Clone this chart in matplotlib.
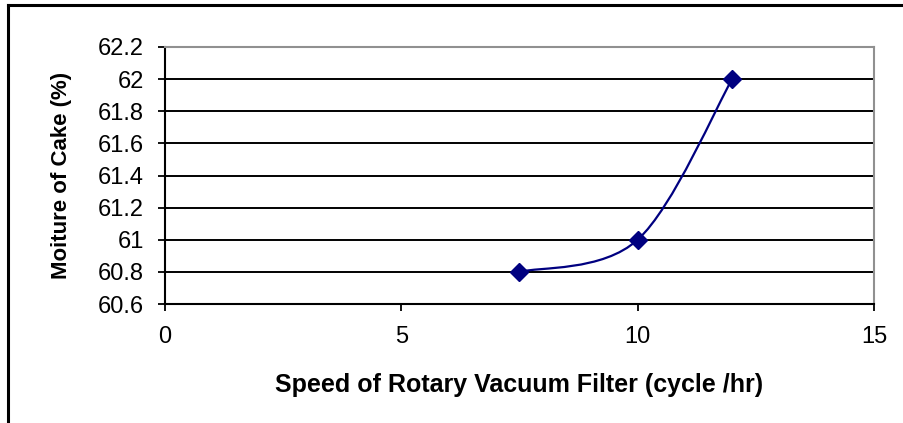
import numpy as np
import matplotlib.pyplot as plt
from matplotlib.path import Path
from matplotlib.patches import PathPatch
from matplotlib.lines import Line2D

plt.rcParams['font.family'] = ['Liberation Sans', 'DejaVu Sans']

speed = np.array([7.5, 10.0, 12.0])
moisture = np.array([60.8, 61.0, 62.0])

x_ticks = [0, 5, 10, 15]
y_ticks = [60.6, 60.8, 61.0, 61.2, 61.4, 61.6, 61.8, 62.0, 62.2]
y_tick_labels = ['60.6', '60.8', '61', '61.2', '61.4', '61.6', '61.8', '62', '62.2']

navy = '#000080'

fig = plt.figure(figsize=(9.04, 4.23), dpi=100)
ax = fig.add_axes([0.1825, 0.2813, 0.7843, 0.6076])

# excel style smoothed line: cubic bezier through the points
pts = np.column_stack([speed, moisture])
n = len(pts)
verts = [pts[0]]
codes = [Path.MOVETO]
for i in range(n - 1):
    p_prev = pts[i - 1] if i > 0 else pts[i]
    p_next2 = pts[i + 2] if i + 2 < n else pts[i + 1]
    c1 = pts[i] + (pts[i + 1] - p_prev) / 6
    c2 = pts[i + 1] - (p_next2 - pts[i]) / 6
    verts += [c1, c2, pts[i + 1]]
    codes += [Path.CURVE4] * 3
ax.add_patch(PathPatch(Path(verts, codes), fill=False, edgecolor=navy, lw=1.6, zorder=3))
ax.plot(speed, moisture, linestyle='none', marker='D', ms=9, color=navy, zorder=4)

ax.set_xlim(0, 15)
ax.set_ylim(60.6, 62.2)
ax.set_xticks(x_ticks)
ax.set_yticks(y_ticks)
ax.set_yticklabels(y_tick_labels)
ax.yaxis.grid(True, color='black', lw=1.4)
ax.set_axisbelow(True)

for s in ['top', 'right']:
    ax.spines[s].set_color('#909090')
    ax.spines[s].set_linewidth(1.5)
for s in ['left', 'bottom']:
    ax.spines[s].set_color('black')
    ax.spines[s].set_linewidth(1.5)

ax.tick_params(axis='both', direction='out', length=5, width=1.3, labelsize=17)
ax.tick_params(axis='y', pad=10)
ax.tick_params(axis='x', pad=11)

ax.set_xlabel('Speed of Rotary Vacuum Filter (cycle /hr)', fontsize=18, fontweight='bold', labelpad=18)
ax.set_ylabel('Moiture of Cake (%)', fontsize=16, fontweight='bold', labelpad=19)

# chart area border (only left and top visible)
fig.add_artist(Line2D([8 / 904, 8 / 904], [0, 1 - 5 / 423], color='black', lw=2.2))
fig.add_artist(Line2D([8 / 904, 1], [1 - 5 / 423, 1 - 5 / 423], color='black', lw=2.2))

fig.savefig('out.png', dpi=100)
